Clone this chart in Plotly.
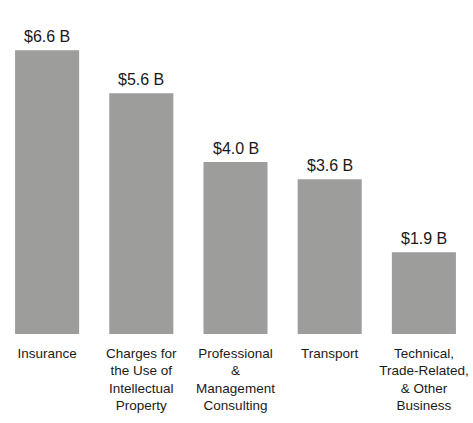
import plotly.graph_objects as go

categories = [
    "Insurance",
    "Charges for<br>the Use of<br>Intellectual<br>Property",
    "Professional<br>&<br>Management<br>Consulting",
    "Transport",
    "Technical,<br>Trade-Related,<br>& Other<br>Business",
]
values = [6.6, 5.6, 4.0, 3.6, 1.9]
value_labels = ["$6.6 B", "$5.6 B", "$4.0 B", "$3.6 B", "$1.9 B"]

FONT = "Liberation Sans, Arial, sans-serif"
BAR_COLOR = "#9d9d9c"
TEXT_COLOR = "#1a1a1a"

fig = go.Figure()
fig.add_trace(go.Bar(
    x=categories,
    y=values,
    marker=dict(color=BAR_COLOR, line=dict(width=0)),
    hoverinfo="skip",
))

for c, v, t in zip(categories, values, value_labels):
    fig.add_annotation(
        x=c, y=v, text=t, showarrow=False,
        xanchor="center", yanchor="bottom", yshift=3,
        font=dict(family=FONT, size=16, color=TEXT_COLOR),
    )

fig.update_layout(
    width=473, height=423,
    margin=dict(l=0, r=2, t=21, b=89, autoexpand=False),
    paper_bgcolor="white",
    plot_bgcolor="white",
    bargap=0.32,
    showlegend=False,
    font=dict(family=FONT, color=TEXT_COLOR),
)
fig.update_xaxes(
    showgrid=False, zeroline=False, showline=False, ticks="",
    tickfont=dict(family=FONT, size=13.5, color=TEXT_COLOR),
    tickangle=0, automargin=False, ticklabelstandoff=9,
)
fig.update_yaxes(
    range=[0, 7.28], showgrid=False, zeroline=False, showline=False,
    showticklabels=False, ticks="", automargin=False,
)

fig.write_html(
    "out.html",
    config={"displayModeBar": False},
    post_script="document.body.style.margin='0';document.body.style.padding='0';",
)
